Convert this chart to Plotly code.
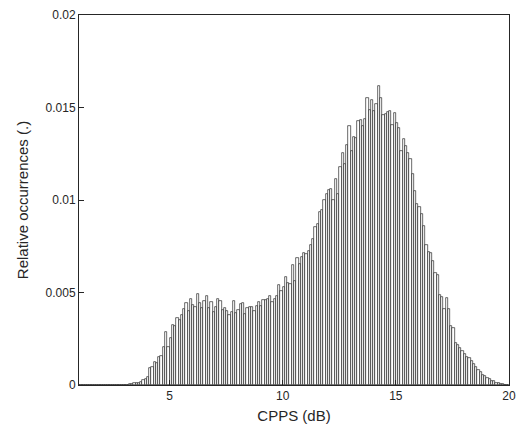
import plotly.graph_objects as go

bin_start = 1.0
bin_width = 0.1

occurrences = [
    # 1.0 - 3.2
    0, 0, 0, 0, 0, 0, 0, 0, 0, 0, 0, 0, 0, 0, 0, 0, 0, 0, 0, 0, 0, 0,
    # 3.2 - 3.8
    0.00005, 0.00008, 0.0001, 0.0001, 0.00012, 0.00015,
    # 3.8 - 4.6
    0.00027, 0.0003, 0.00045, 0.0009, 0.001, 0.00123, 0.00118, 0.00153,
    # 4.6 - 11.3
    0.00157, 0.00207, 0.00288, 0.00207, 0.00252, 0.00323, 0.00319, 0.0036, 0.00351, 0.00378,
    0.00409, 0.00445, 0.00398, 0.00463, 0.00432, 0.00423, 0.00492, 0.00445, 0.00418, 0.00456,
    0.00481, 0.00418, 0.0045, 0.00395, 0.00423, 0.00467, 0.00456, 0.00405, 0.00414, 0.00402,
    0.00378, 0.00396, 0.00456, 0.00391, 0.00405, 0.00438, 0.00441, 0.00382, 0.00418, 0.00423,
    0.0042, 0.00402, 0.00427, 0.00449, 0.00427, 0.00459, 0.00459, 0.00463, 0.00481, 0.0045,
    0.00467, 0.00481, 0.0054, 0.0051, 0.00528, 0.00586, 0.0055, 0.00546, 0.00649, 0.00562,
    0.00685, 0.00654, 0.00694, 0.00715, 0.00706, 0.00726, 0.00757,
    # 11.3 - 11.4
    0.0079,
    # 11.4 - 18.3
    0.00852, 0.00869, 0.00937, 0.00946, 0.0100, 0.0103, 0.01054, 0.01058, 0.0100, 0.01112,
    0.01032, 0.01177, 0.01252, 0.01195, 0.01297, 0.0140, 0.01265, 0.01342, 0.01333, 0.01427,
    0.01431, 0.0140, 0.01438, 0.0155, 0.01486, 0.01539, 0.01483, 0.01521, 0.01616, 0.01553,
    0.01459, 0.01467, 0.01477, 0.01481, 0.01405, 0.01472, 0.01418, 0.01387, 0.01267, 0.01328,
    0.01294, 0.01256, 0.01222, 0.01142, 0.01049, 0.00977, 0.00964, 0.00923, 0.00861, 0.00757,
    0.00717, 0.00716, 0.0067, 0.00604, 0.00595, 0.00486, 0.00477, 0.00409, 0.00472, 0.00409,
    0.00321, 0.00306, 0.00225, 0.00216, 0.00202, 0.00184, 0.00166, 0.00153, 0.00144,
    # 18.3 - 20.0
    0.0013, 0.00115, 0.001, 0.0008, 0.0007, 0.00055, 0.0005, 0.0004, 0.0003, 0.0002,
    0.0002, 0.0001, 0.0001, 0.00008, 0.00005, 0, 0,
]

x_ticks = [5, 10, 15, 20]
y_ticks = [0, 0.005, 0.01, 0.015, 0.02]
y_tick_labels = ["0", "0.005", "0.01", "0.015", "0.02"]

centers = [bin_start + bin_width * (i + 0.5) for i in range(len(occurrences))]

fig = go.Figure(go.Bar(
    x=centers, y=occurrences, width=bin_width,
    marker=dict(color="white", line=dict(color="#1a1a1a", width=0.65)),
))

axis_color = "#262626"
fig.update_layout(
    width=516, height=429,
    margin=dict(l=79, r=7, t=15, b=44, autoexpand=False),
    paper_bgcolor="white", plot_bgcolor="white",
    showlegend=False,
    font=dict(family="Liberation Sans, Arial, sans-serif", color=axis_color),
    bargap=0,
)
fig.update_xaxes(
    range=[1, 20], tickvals=x_ticks, ticks="inside", ticklen=5,
    tickcolor=axis_color, showline=True, linecolor=axis_color, linewidth=1,
    mirror=True, showgrid=False, zeroline=False, automargin=False,
    tickfont=dict(size=12),
    title=dict(text="CPPS (dB)", font=dict(size=15), standoff=8),
)
fig.update_yaxes(
    range=[0, 0.02], tickvals=y_ticks, ticktext=y_tick_labels, ticks="inside",
    ticklen=5, tickcolor=axis_color, showline=True, linecolor=axis_color,
    linewidth=1, mirror=True, showgrid=False, zeroline=False, automargin=False,
    tickfont=dict(size=12),
    title=dict(text="Relative occurrences (.)", font=dict(size=15), standoff=13),
)

fig.write_html(
    "out.html",
    config={"displayModeBar": False},
    post_script="document.body.style.margin='0';document.body.style.overflow='hidden';",
)
